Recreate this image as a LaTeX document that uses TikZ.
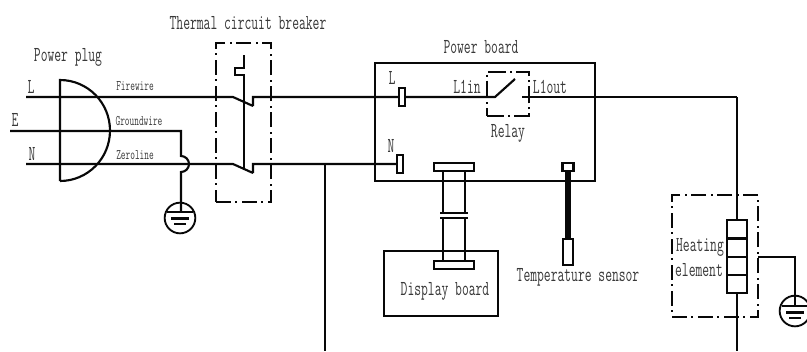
\documentclass[tikz,border=0pt]{standalone}
\usepackage{graphicx}
\definecolor{ink}{gray}{0.03}
\definecolor{txt}{gray}{0.22}
\newcommand{\lbl}[3][.62]{{\ttfamily\fontsize{#2}{#2}\selectfont\scalebox{#1}[1]{#3}}}
\tikzset{
  wire/.style={draw=ink,line width=1.6pt,line join=miter},
  box/.style={draw=ink,line width=1.6pt,rectangle,inner sep=0pt,outer sep=0pt,fill=none},
  dashbox/.style={box,line width=1.8pt,dash pattern=on 11pt off 3.5pt on 1.5pt off 3.5pt},
  lab/.style={text=txt,inner sep=0pt,outer sep=0pt},
  sz/.style n args={2}{minimum width=#1*0.75pt,minimum height=#2*0.75pt},
}
\begin{document}
\begin{tikzpicture}[x=0.75pt,y=-0.75pt]
\useasboundingbox (0,0) rectangle (807,351);
% frames
\node[dashbox,sz={55}{159}] (breaker) at (243.5,122.5) {};
\node[box,sz={220}{118}] (power) at (485,122) {};
\node[dashbox,sz={42}{44},dash pattern=on 13pt off 3pt on 1.5pt off 3pt] (relay) at (508,94) {};
\node[box,sz={114}{65}] (display) at (441,283.5) {};
\node[dashbox,sz={86}{122}] (heatbox) at (715,256) {};
% plug
\coordinate (plugT) at (60,80);
\coordinate (plugB) at (60,181);
\draw[wire] (plugB) -- (plugT) arc[start angle=-90,end angle=90,x radius=50,y radius=50.5];
% L line
\coordinate (Lstart) at (26,97);
\coordinate (Lsw) at (233,97);
\coordinate (Lsw2) at (253,106);
\coordinate (Lup) at (253,97);
\node[box,fill=white,sz={6}{18}] (Lterm) at (402,97) {};
\coordinate (rin) at (495,97);
\coordinate (rarm) at (515,79);
\coordinate (rout) at (522,97);
\coordinate (corner) at (737,97);
\draw[wire] (Lstart) -- (Lsw) -- (Lsw2) (Lsw2) -- (Lup) -- (Lterm.west);
\draw[wire] (Lterm.east) -- (rin) -- (rarm);
\draw[wire] (rout) -- (corner);
% N line
\coordinate (Nstart) at (26,164);
\coordinate (Nsw) at (233,164);
\coordinate (Nsw2) at (253,173);
\coordinate (Nup) at (253,164);
\node[box,fill=white,sz={6}{18}] (Nterm) at (400,164) {};
\draw[wire] (Nstart) -- (Nsw) -- (Nsw2) (Nsw2) -- (Nup) -- (Nterm.west);
\coordinate (nj) at (325,164);
\coordinate (nend) at (325,351);
\draw[wire] (nj) -- (nend);
% E line with jump
\coordinate (Estart) at (10,131);
\coordinate (Eb) at (181,131);
\coordinate (Ej1) at (181,156);
\draw[wire] (Estart) -- (Eb) -- (Ej1) arc[start angle=-90,end angle=90,radius=8] -- (181,212);
% first earth
\node[draw=ink,line width=1.4pt,circle,inner sep=0pt,minimum size=23pt] (earthA) at (180,218) {};
\draw[wire] (earthA.center) ++(-13,-6) -- ++(26,0);
\draw[wire] (earthA.center) ++(-9,0.5) -- ++(18,0);
\draw[wire] (earthA.center) ++(-6,6) -- ++(12,0);
% breaker linkage
\coordinate (linkT) at (244,55);
\coordinate (linkB) at (244,168);
\draw[wire] (linkT) -- (244,68) -- (235,68) -- (235,75) -- (244,75) -- (linkB);
% display connectors
\node[box,sz={40}{8}] (connT) at (454,167) {};
\node[box,sz={40}{8}] (connB) at (454,265) {};
\draw[wire] (443,171) -- (443,213) (465,171) -- (465,213);
\draw[wire] (443,218) -- (443,261) (465,218) -- (465,261);
\coordinate (ringAl) at (440,213); \coordinate (ringAr) at (468,213);
\coordinate (ringBl) at (440,218); \coordinate (ringBr) at (468,218);
\draw[wire] (ringAl) -- (ringAr) (ringBl) -- (ringBr);
% sensor
\node[box,sz={11}{8}] (senT) at (568,167) {};
\node[box,sz={10}{26}] (senB) at (568,252) {};
\draw[draw=ink,line width=3.8pt] (senT.south) -- (senB.north);
% heating element
\node[box,sz={20}{73}] (heat) at (737,256.5) {};
\draw[wire] (corner) -- (heat.north);
\coordinate (hend) at (737,351);
\draw[wire] (heat.south) -- (hend);
\draw[wire] (727,238.5) -- (747,238.5) (727,257) -- (747,257) (727,275) -- (747,275);
% second earth
\coordinate (ge) at (795,257);
\node[draw=ink,line width=1.4pt,circle,inner sep=0pt,minimum size=23pt] (earthB) at (795,311) {};
\draw[wire] (heatbox.east |- ge) -- (ge) -- (795,306);
\draw[wire] (earthB.center) ++(-13,-5) -- ++(26,0);
\draw[wire] (earthB.center) ++(-9,1.5) -- ++(18,0);
\draw[wire] (earthB.center) ++(-6,7) -- ++(12,0);
% labels
\node[lab] (t1) at (248,23) {\lbl{16pt}{Thermal circuit breaker}};
\node[lab] (t2) at (68,57) {\lbl{16pt}{Power plug}};
\node[lab] (t3) at (481,47) {\lbl{16pt}{Power board}};
\node[lab] (t4) at (135,86) {\lbl{11pt}{Firewire}};
\node[lab] (t5) at (139,121) {\lbl{11pt}{Groundwire}};
\node[lab] (t6) at (135,155) {\lbl{11pt}{Zeroline}};
\node[lab] (t7) at (31,87) {\lbl{16pt}{L}};
\node[lab] (t8) at (15,120) {\lbl{16pt}{E}};
\node[lab] (t9) at (32,154) {\lbl{16pt}{N}};
\node[lab] (t10) at (392,78) {\lbl{16pt}{L}};
\node[lab] (t11) at (391,146) {\lbl{16pt}{N}};
\node[lab] (t12) at (467,87) {\lbl{16pt}{L1in}};
\node[lab] (t13) at (550,87) {\lbl{16pt}{L1out}};
\node[lab] (t14) at (508,133) {\lbl{16pt}{Relay}};
\node[lab] (t15) at (445,291) {\lbl{16pt}{Display board}};
\node[lab] (t16) at (578,277) {\lbl{16pt}{Temperature sensor}};
\node[lab] (t17) at (700,247) {\lbl{16pt}{Heating}};
\node[lab] (t18) at (699,270) {\lbl{16pt}{element}};
\end{tikzpicture}
\end{document}
